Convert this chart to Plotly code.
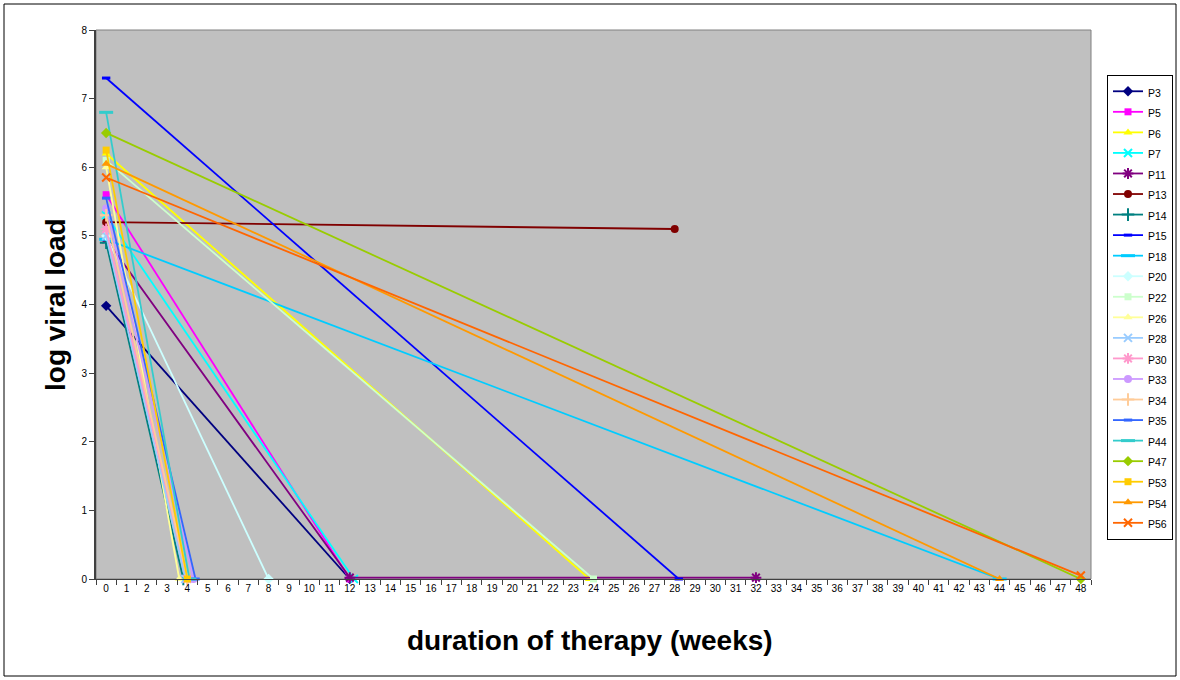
import plotly.graph_objects as go

# ---- data (weeks, log viral load) ----
series_names = ["P3", "P5", "P6", "P7", "P11", "P13", "P14", "P15", "P18", "P20", "P22",
                "P26", "P28", "P30", "P33", "P34", "P35", "P44", "P47", "P53", "P54", "P56"]

P3_x, P3_y = [0, 12], [3.98, 0]
P5_x, P5_y = [0, 12], [5.6, 0]
P6_x, P6_y = [0, 23.8], [6.2, 0]
P7_x, P7_y = [0, 12.2], [5.3, 0]
P11_x, P11_y = [0, 12, 32], [4.95, 0.02, 0.02]
P13_x, P13_y = [0, 28], [5.2, 5.1]
P14_x, P14_y = [0, 3.8], [4.9, 0]
P15_x, P15_y = [0, 28.2], [7.3, 0]
P18_x, P18_y = [0, 44], [4.95, 0]
P20_x, P20_y = [0, 8], [5.0, 0]
P22_x, P22_y = [0, 24], [6.1, 0]
P26_x, P26_y = [0, 3.6], [6.0, 0]
P28_x, P28_y = [0, 3.9], [5.0, 0]
P30_x, P30_y = [0, 4.0], [5.1, 0]
P33_x, P33_y = [0, 4.3], [5.4, 0]
P34_x, P34_y = [0, 4.0], [5.3, 0]
P35_x, P35_y = [0, 4.4], [5.55, 0]
P44_x, P44_y = [0, 4.1], [6.8, 0]
P47_x, P47_y = [0, 48], [6.5, 0]
P53_x, P53_y = [0, 4.0], [6.25, 0]
P54_x, P54_y = [0, 44], [6.05, 0]
P56_x, P56_y = [0, 48], [5.85, 0.05]

xs = [P3_x, P5_x, P6_x, P7_x, P11_x, P13_x, P14_x, P15_x, P18_x, P20_x, P22_x,
      P26_x, P28_x, P30_x, P33_x, P34_x, P35_x, P44_x, P47_x, P53_x, P54_x, P56_x]
ys = [P3_y, P5_y, P6_y, P7_y, P11_y, P13_y, P14_y, P15_y, P18_y, P20_y, P22_y,
      P26_y, P28_y, P30_y, P33_y, P34_y, P35_y, P44_y, P47_y, P53_y, P54_y, P56_y]

colors = ["#000080", "#FF00FF", "#FFFF00", "#00FFFF", "#800080", "#800000", "#008080",
          "#0000FF", "#00CCFF", "#CCFFFF", "#CCFFCC", "#FFFF99", "#99CCFF", "#FF99CC",
          "#CC99FF", "#FFCC99", "#3366FF", "#33CCCC", "#99CC00", "#FFCC00", "#FF9900", "#FF6600"]
symbols = ["diamond", "square", "triangle-up", "x-thin", "asterisk", "circle", "cross-thin",
           "line-ew", "line-ew", "diamond", "square", "triangle-up", "x-thin", "asterisk",
           "circle", "cross-thin", "line-ew", "line-ew", "diamond", "square", "triangle-up", "x-thin"]
sizes = [8, 7, 8, 8, 9, 8, 9, 6, 10, 8, 7, 8, 8, 9, 8, 9, 6, 10, 8, 7, 8, 8]

x_ticks = list(range(0, 49))
y_ticks = list(range(0, 9))

FONT = "Arial, Liberation Sans, sans-serif"

fig = go.Figure()
for name, x, y, c, s, sz in zip(series_names, xs, ys, colors, symbols, sizes):
    stroke_only = s in ("x-thin", "asterisk", "cross-thin")
    lw = 3 if s == "line-ew" else (2 if stroke_only else 0)
    fig.add_trace(go.Scatter(
        x=x, y=y, name="<span style='font-size:10.5px'>" + name + "</span>",
        mode="lines+markers",
        line=dict(color=c, width=1.8),
        marker=dict(symbol=s, size=sz, color=c, line=dict(color=c, width=lw)),
        cliponaxis=False,
        hovertemplate=name + ": %{x}, %{y}<extra></extra>",
    ))

L, R, T, B = 96, 89, 30, 101
W, H = 1180, 680
pw, ph = W - L - R, H - T - B

def px_x(p):
    return (p - L) / pw

def px_y(p):
    return (H - B - p) / ph

fig.update_layout(
    width=W, height=H,
    margin=dict(l=L, r=R, t=T, b=B, pad=0, autoexpand=False),
    paper_bgcolor="white",
    plot_bgcolor="#C0C0C0",
    font=dict(family=FONT, color="black"),
    showlegend=True,
    legend=dict(
        x=px_x(1107), y=px_y(75), xanchor="left", yanchor="top",
        bgcolor="white", bordercolor="black", borderwidth=1,
        font=dict(size=13.5, family=FONT),
        tracegroupgap=0, itemwidth=30,
    ),
    xaxis=dict(
        range=[-0.5, 48.5], tickmode="array", tickvals=x_ticks,
        ticktext=[str(v) for v in x_ticks],
        ticks="", ticklen=0, showgrid=False, zeroline=False,
        showline=True, linecolor="#404040", linewidth=1, mirror=False,
        tickfont=dict(size=10, family=FONT),
        minor=dict(tickmode="linear", tick0=0.5, dtick=1, ticks="outside",
                   ticklen=5, tickcolor="#404040", showgrid=False),
    ),
    yaxis=dict(
        range=[0, 8], tickmode="array", tickvals=y_ticks,
        ticks="outside", ticklen=5, tickcolor="#404040",
        showgrid=False, zeroline=False,
        showline=True, linecolor="#404040", linewidth=2, mirror=False,
        tickfont=dict(size=10, family=FONT),
    ),
    shapes=[
        dict(type="rect", xref="paper", yref="paper", x0=0, x1=1, y0=0, y1=1,
             line=dict(color="#808080", width=1), fillcolor="rgba(0,0,0,0)", layer="below"),
        dict(type="rect", xref="paper", yref="paper",
             x0=px_x(4), x1=px_x(1176), y0=px_y(676), y1=px_y(4),
             line=dict(color="black", width=1), fillcolor="rgba(0,0,0,0)"),
    ],
    annotations=[
        dict(text="<b>duration of therapy (weeks)</b>", xref="paper", yref="paper",
             x=px_x(590), y=px_y(640), xanchor="center", yanchor="middle",
             showarrow=False, font=dict(size=28, family=FONT)),
        dict(text="<b>log viral load</b>", xref="paper", yref="paper",
             x=px_x(55), y=px_y(305), xanchor="center", yanchor="middle",
             textangle=-90, showarrow=False, font=dict(size=28, family=FONT)),
    ],
)

fig.write_html("out.html", config={"displayModeBar": False},
               post_script="document.body.style.margin='0';document.body.style.overflow='hidden';")
